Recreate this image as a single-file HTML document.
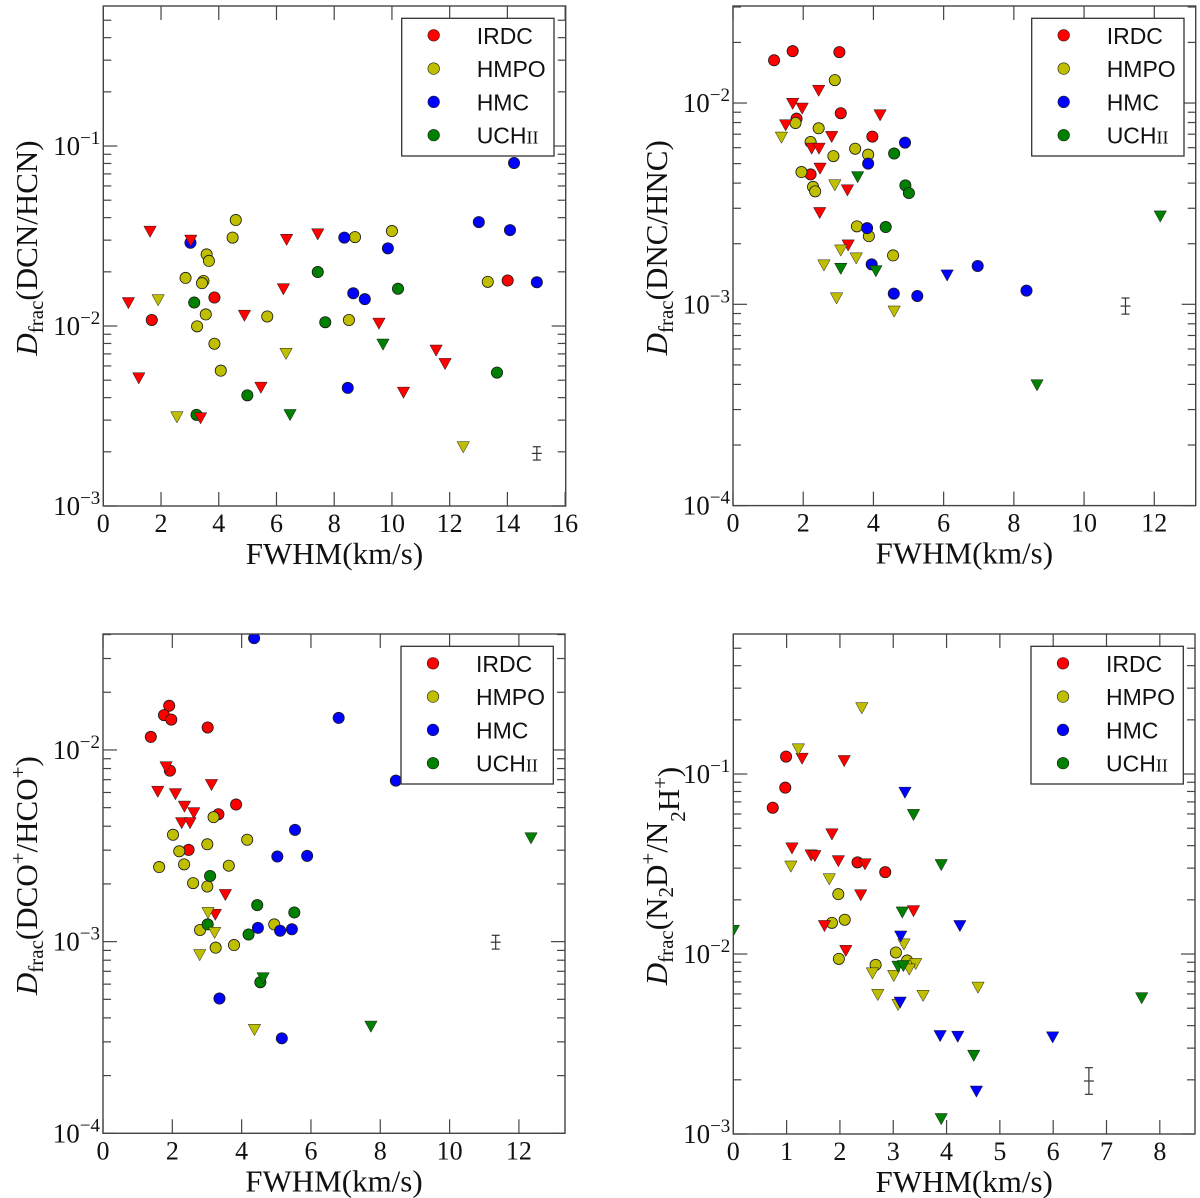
<!DOCTYPE html>
<html><head><meta charset="utf-8"><style>
html,body{margin:0;padding:0;background:#fff;}
svg{display:block;}
</style></head><body>
<svg id="fig" xmlns="http://www.w3.org/2000/svg" width="1200" height="1198" viewBox="0 0 1200 1198"></svg>
<script>
// ---------- Panel 1: DCN/HCN ----------
const p1_irdc_det = [[1.68,0.0108],[3.85,0.0144],[14.01,0.0179]];
const p1_irdc_lim = [[1.62,0.0334],[3.03,0.0298],[6.35,0.0301],[7.43,0.0323],[6.24,0.016],[0.87,0.0134],[4.89,0.0114],[9.55,0.0103],[11.53,0.0073],[11.84,0.00615],[1.23,0.00512],[5.46,0.00454],[10.40,0.00426],[3.37,0.00307]];
const p1_hmpo_det = [[4.59,0.0388],[4.48,0.031],[8.72,0.0312],[10.0,0.0337],[3.58,0.025],[3.66,0.023],[2.85,0.0185],[3.47,0.0178],[3.42,0.0173],[13.32,0.0176],[3.55,0.0116],[5.68,0.0113],[8.51,0.0108],[3.25,0.00996],[3.85,0.00797],[4.07,0.00565]];
const p1_hmpo_lim = [[1.9,0.0139],[6.33,0.0070],[2.55,0.00311],[12.47,0.00212]];
const p1_hmc_det = [[3.02,0.029],[8.35,0.031],[9.86,0.027],[13.01,0.0378],[14.09,0.0341],[15.02,0.0175],[8.66,0.0152],[9.06,0.0141],[8.47,0.00453],[14.23,0.0805]];
const p1_hmc_lim = [];
const p1_uch_det = [[7.43,0.01995],[10.21,0.0161],[3.15,0.0135],[7.69,0.0105],[13.64,0.00551],[4.99,0.00412],[3.23,0.00321]];
const p1_uch_lim = [[9.69,0.00788],[6.47,0.0032]];
const p1_err = [15.02,0.00196,0.037];
const p1_xticks = [0,2,4,6,8,10,12,14,16];
const p1_yexp = [-3,-2,-1];

// ---------- Panel 2: DNC/HNC ----------
const p2_irdc_det = [[1.17,0.0163],[1.70,0.0181],[3.03,0.0179],[3.07,0.0089],[1.81,0.00836],[3.97,0.00681],[2.21,0.00442]];
const p2_irdc_lim = [[2.44,0.0115],[1.70,0.0099],[1.97,0.00938],[4.19,0.00869],[1.5,0.00775],[2.81,0.00678],[2.24,0.00593],[2.45,0.00593],[2.48,0.00472],[3.26,0.00368],[2.47,0.00284],[3.28,0.00196]];
const p2_hmpo_det = [[2.9,0.0130],[1.78,0.00796],[2.44,0.00749],[2.21,0.0064],[3.48,0.00593],[3.85,0.00554],[2.86,0.00545],[1.95,0.00454],[2.28,0.00383],[2.34,0.00364],[3.53,0.00244],[3.87,0.00218],[4.56,0.00175]];
const p2_hmpo_lim = [[1.38,0.00673],[2.9,0.0039],[3.07,0.00185],[3.51,0.00169],[2.59,0.00156],[2.95,0.00107],[4.59,0.00092]];
const p2_hmc_det = [[4.9,0.00636],[3.85,0.005],[3.82,0.00239],[3.95,0.00158],[4.58,0.00113],[5.25,0.0011],[6.97,0.00155],[8.36,0.00117]];
const p2_hmc_lim = [[6.1,0.00139]];
const p2_uch_det = [[4.59,0.00561],[4.91,0.0039],[5.01,0.00357],[4.35,0.00242]];
const p2_uch_lim = [[3.55,0.00428],[3.07,0.0015],[4.07,0.00146],[12.17,0.00273],[8.66,0.000396]];
const p2_err = [11.18,0.00098,0.04];
const p2_xticks = [0,2,4,6,8,10,12];
const p2_yexp = [-4,-3,-2];

// ---------- Panel 3: DCO+/HCO+ ----------
const p3_irdc_det = [[1.91,0.0170],[1.76,0.0152],[1.97,0.0144],[3.02,0.0131],[1.38,0.0117],[1.93,0.0078],[3.84,0.00519],[3.33,0.00462],[2.47,0.00301]];
const p3_irdc_lim = [[1.82,0.00812],[1.58,0.00605],[2.09,0.00588],[3.13,0.00656],[2.35,0.00506],[2.62,0.00468],[2.27,0.00415],[2.51,0.00415],[3.53,0.00175],[3.24,0.00138]];
const p3_hmpo_det = [[3.19,0.00446],[2.02,0.00361],[4.16,0.0034],[3.01,0.00322],[2.2,0.00296],[1.62,0.00245],[2.34,0.00253],[3.63,0.00249],[2.6,0.00202],[3.01,0.00194],[4.94,0.00123],[2.8,0.00115],[3.25,0.00093],[3.78,0.00096]];
const p3_hmpo_lim = [[3.03,0.00141],[3.22,0.00111],[2.79,0.00085],[4.37,0.000346]];
const p3_hmc_det = [[4.36,0.0383],[6.8,0.0147],[8.45,0.00692],[5.54,0.00383],[5.03,0.00278],[5.89,0.0028],[4.47,0.00118],[5.11,0.00114],[5.45,0.00116],[3.36,0.000505],[5.16,0.000313]];
const p3_hmc_lim = [];
const p3_uch_det = [[3.09,0.0022],[4.45,0.00155],[5.52,0.00142],[3.02,0.00123],[4.2,0.00109],[4.54,0.000614]];
const p3_uch_lim = [[12.35,0.00346],[4.62,0.000644],[7.73,0.00036]];
const p3_err = [11.33,0.000993,0.036];
const p3_xticks = [0,2,4,6,8,10,12];
const p3_yexp = [-4,-3,-2];

// ---------- Panel 4: N2D+/N2H+ ----------
const p4_irdc_det = [[0.99,0.125],[0.975,0.084],[0.74,0.065],[2.33,0.0323],[2.85,0.0285]];
const p4_irdc_lim = [[1.29,0.1216],[2.08,0.118],[1.85,0.0462],[1.1,0.0386],[1.46,0.0353],[1.53,0.035],[1.97,0.0328],[2.47,0.0315],[2.39,0.0212],[3.38,0.0173],[1.71,0.0143],[2.11,0.0104]];
const p4_hmpo_det = [[1.97,0.0215],[1.85,0.0149],[2.09,0.0155],[1.98,0.0094],[3.05,0.0102],[2.67,0.0087],[3.26,0.0092]];
const p4_hmpo_lim = [[2.41,0.232],[1.22,0.137],[1.08,0.0306],[1.8,0.026],[3.2,0.0113],[3.42,0.0088],[3.3,0.0082],[2.61,0.0078],[3.01,0.00755],[4.59,0.0065],[2.71,0.00592],[3.56,0.00585],[3.09,0.00521]];
const p4_hmc_det = [];
const p4_hmc_lim = [[3.22,0.0787],[4.25,0.0143],[3.14,0.0125],[3.13,0.00537],[3.88,0.0035],[4.21,0.00347],[5.99,0.00344],[4.56,0.00172]];
const p4_uch_det = [];
const p4_uch_lim = [[3.38,0.0592],[3.9,0.0312],[3.17,0.017],[0.0,0.01346],[3.09,0.0085],[3.19,0.00857],[7.66,0.00568],[4.51,0.00272],[3.9,0.00121]];
const p4_err = [6.67,0.00197,0.074];
const p4_xticks = [0,1,2,3,4,5,6,7,8];
const p4_yexp = [-3,-2,-1];

const COLORS = {irdc:'#ff0000', hmpo:'#bfbf00', hmc:'#0000ff', uch:'#008000'};
const NS = 'http://www.w3.org/2000/svg';
const svg = document.getElementById('fig');

function mk(tag, attrs, parent){
  const e = document.createElementNS(NS, tag);
  for (const k in attrs) e.setAttribute(k, attrs[k]);
  (parent||svg).appendChild(e);
  return e;
}

function panel(id, box, xmax, ylogMin, ylogMax, xticks, yexp, det, lim, err, ytitle, tx){
  const g = mk('g', {});
  
  
  const L=box[0], T=box[1], R=box[2], B=box[3];
  const X = v => L + (v/xmax)*(R-L);
  const Y = v => B - ((Math.log10(v)-ylogMin)/(ylogMax-ylogMin))*(B-T);
  const clipId = id+'-clip';
  const cp = mk('clipPath', {id:clipId}, g);
  mk('rect', {x:L, y:T, width:R-L, height:B-T}, cp);

  const pts = mk('g', {'clip-path':'url(#'+clipId+')'}, g);
  
  
  const order = ['irdc','hmpo','hmc','uch'];
  order.forEach(k => {
    det[k].forEach(p => {
      const c = mk('circle', {cx:X(p[0]), cy:Y(p[1]), r:5.6, fill:COLORS[k], stroke:'#1a1a1a', 'stroke-width':0.8}, pts);
      
      
    });
  });
  order.forEach(k => {
    lim[k].forEach(p => {
      const x = X(p[0]), y = Y(p[1]);
      const t = mk('polygon', {points:`${x-6.2},${y-5.6} ${x+6.2},${y-5.6} ${x},${y+5.6}`, fill:COLORS[k], stroke:'#1a1a1a', 'stroke-width':0.5}, pts);
      
      
    });
  });

  const eg = mk('g', {stroke:'#333', 'stroke-width':1.2}, g);
  
  
  const ex = X(err[0]);
  const ey1 = Y(err[1]*Math.pow(10,err[2])), ey2 = Y(err[1]/Math.pow(10,err[2]));
  mk('line', {x1:ex, x2:ex, y1:ey1, y2:ey2}, eg);
  mk('line', {x1:ex-4, x2:ex+4, y1:ey1, y2:ey1}, eg);
  mk('line', {x1:ex-4, x2:ex+4, y1:ey2, y2:ey2}, eg);
  mk('line', {x1:ex-5, x2:ex+5, y1:Y(err[1]), y2:Y(err[1])}, eg);

  const tg = mk('g', {stroke:'#444', 'stroke-width':1.2}, g);
  
  
  xticks.forEach(v => {
    const x = X(v);
    mk('line', {x1:x, x2:x, y1:B, y2:B-14}, tg);
    mk('line', {x1:x, x2:x, y1:T, y2:T+14}, tg);
    const lb = mk('text', {x:x, y:B+26, 'text-anchor':'middle', 'font-family':'"Liberation Serif", serif', 'font-size':26, fill:'#111', stroke:'none'}, g);
    lb.textContent = String(v);
    
    
  });
  for (let d = Math.floor(ylogMin); d <= Math.ceil(ylogMax); d++){
    for (let k = 1; k <= 9; k++){
      const lv = d + Math.log10(k);
      if (lv < ylogMin-1e-6 || lv > ylogMax+1e-6) continue;
      const y = Y(Math.pow(10, lv));
      const len = k===1 ? 14 : 8;
      mk('line', {x1:L, x2:L+len, y1:y, y2:y}, tg);
      mk('line', {x1:R, x2:R-len, y1:y, y2:y}, tg);
    }
  }
  yexp.forEach(e => {
    const y = Y(Math.pow(10,e));
    const t = mk('text', {x:L-3, y:y+9, 'text-anchor':'end', 'font-family':'"Liberation Serif", serif', 'font-size':27, fill:'#111'}, g);
    
    
    const a = mk('tspan', {}, t); a.textContent = '10';
    const b = mk('tspan', {'font-size':19, dy:-11}, t); b.textContent = '\u2212' + Math.abs(e);
  });

  const fr = mk('rect', {x:L, y:T, width:R-L, height:B-T, fill:'none', stroke:'#444', 'stroke-width':1.4}, g);
  
  

  const xt = mk('text', {x:(L+R)/2, y:B+58, 'text-anchor':'middle', 'font-family':'"Liberation Serif", serif', 'font-size':31, fill:'#111'}, g);
  xt.textContent = 'FWHM(km/s)';
  
  

  const cy = (T+B)/2 - 8;
  const yt = mk('text', {x:0, y:0, transform:`translate(${tx},${cy}) rotate(-90)`, 'text-anchor':'middle', 'font-family':'"Liberation Serif", serif', 'font-size':31, fill:'#111'}, g);
  
  
  ytitle.forEach(part => {
    const s = mk('tspan', {}, yt);
    s.textContent = part[0];
    if (part[1]==='it') s.setAttribute('font-style','italic');
    if (part[1]==='sub'){ s.setAttribute('font-size', 21); s.setAttribute('dy', 6); }
    if (part[1]==='sup'){ s.setAttribute('font-size', 21); s.setAttribute('dy', -12); }
    if (part[2]!==undefined) s.setAttribute('dy', part[2]);
  });

  const lg = mk('g', {}, g);
  
  
  const lw = 152.3, lh = 137.7, lx = R-11.7-lw, ly = T+12.3;
  mk('rect', {x:lx, y:ly, width:lw, height:lh, fill:'#fff', stroke:'#333', 'stroke-width':1.3}, lg);
  const names = [['IRDC','irdc'],['HMPO','hmpo'],['HMC','hmc'],['UCH','uch']];
  names.forEach((n,i) => {
    const ry = ly + 17 + i*33.3;
    const ent = mk('g', {}, lg);
    
    
    mk('circle', {cx:lx+32, cy:ry, r:5.8, fill:COLORS[n[1]], stroke:'#1a1a1a', 'stroke-width':0.6}, ent);
    const t = mk('text', {x:lx+75, y:ry+8.5, 'font-family':'"Liberation Sans", sans-serif', 'font-size':23, fill:'#111'}, ent);
    t.textContent = n[0];
    if (n[1]==='uch'){
      const s = mk('tspan', {'font-family':'"Liberation Serif", serif', 'font-size':18}, t);
      s.textContent = 'II';
    }
  });
}

function S(a,b,c,d){return {irdc:a,hmpo:b,hmc:c,uch:d};}

panel('panel-dcn', [103.3,6,565.7,506], 16.02, -3, -0.222, p1_xticks, p1_yexp,
  S(p1_irdc_det,p1_hmpo_det,p1_hmc_det,p1_uch_det), S(p1_irdc_lim,p1_hmpo_lim,p1_hmc_lim,p1_uch_lim), p1_err,
  [['D','it'],['frac','sub'],['(DCN/HCN)',null,-6]], 37);
panel('panel-dnc', [733,6,1195.7,505.6], 13.18, -4, -1.518, p2_xticks, p2_yexp,
  S(p2_irdc_det,p2_hmpo_det,p2_hmc_det,p2_uch_det), S(p2_irdc_lim,p2_hmpo_lim,p2_hmc_lim,p2_uch_lim), p2_err,
  [['D','it'],['frac','sub'],['(DNC/HNC)',null,-6]], 667);
panel('panel-dco', [103,634,565,1133.3], 13.33, -4, -1.395, p3_xticks, p3_yexp,
  S(p3_irdc_det,p3_hmpo_det,p3_hmc_det,p3_uch_det), S(p3_irdc_lim,p3_hmpo_lim,p3_hmc_lim,p3_uch_lim), p3_err,
  [['D','it'],['frac','sub'],['(DCO',null,-6],['+','sup'],['/HCO',null,12],['+','sup'],[')',null,12]], 37);
panel('panel-n2d', [733.3,634,1195,1134], 8.66, -3, -0.222, p4_xticks, p4_yexp,
  S(p4_irdc_det,p4_hmpo_det,p4_hmc_det,p4_uch_det), S(p4_irdc_lim,p4_hmpo_lim,p4_hmc_lim,p4_uch_lim), p4_err,
  [['D','it'],['frac','sub'],['(N',null,-6],['2','sub'],['D',null,-6],['+','sup'],['/N',null,12],['2','sub',18],['H',null,-6],['+','sup'],[')',null,12]], 667);
</script>
</body></html>
